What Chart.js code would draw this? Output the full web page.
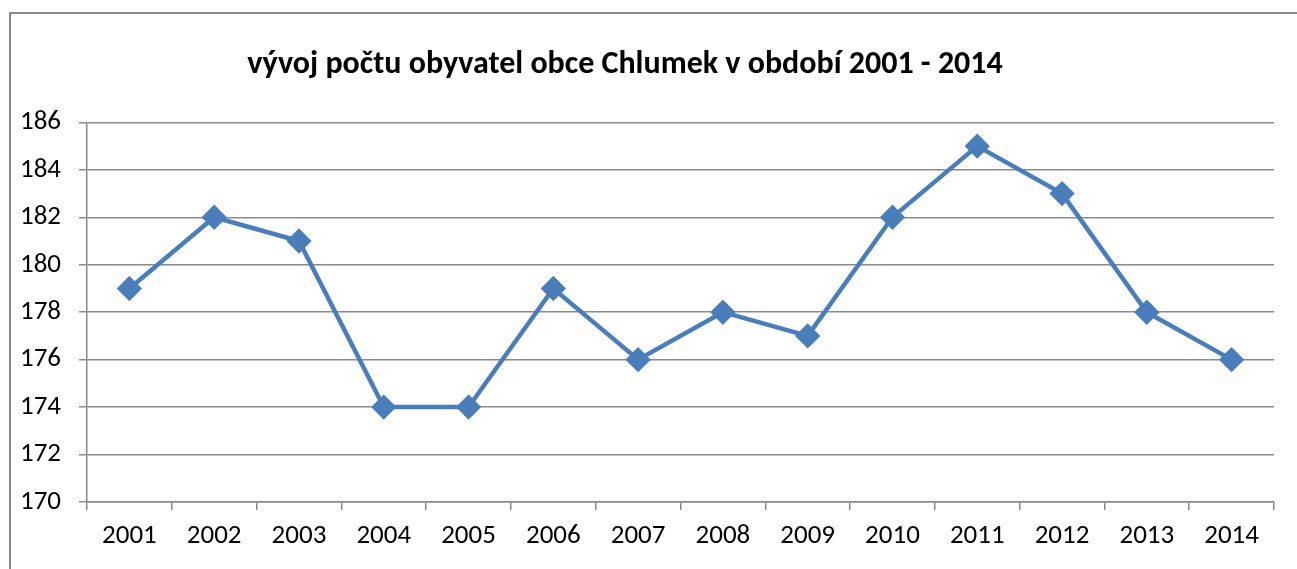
<!DOCTYPE html>
<html>
<head>
<meta charset="utf-8">
<script src="https://cdn.jsdelivr.net/npm/chart.js@4"></script>
<style>
  html, body { margin: 0; padding: 0; background: #fff; }
  #wrap { position: relative; width: 1297px; height: 569px; overflow: hidden; }
  #frame { position: absolute; left: 9px; top: 12px; width: 1400px; height: 700px;
           border-left: 2px solid #888; border-top: 2px solid #888; }
  canvas { position: absolute; left: -24px; top: 0; }
</style>
</head>
<body>
<div id="wrap">
  <div id="frame"></div>
  <canvas id="myChart" width="1321" height="569"></canvas>
</div>
<script>
// roky a počet obyvatel
var roky = ['2001', '2002', '2003', '2004', '2005', '2006', '2007', '2008', '2009', '2010', '2011', '2012', '2013', '2014'];
var obyvatele = [179, 182, 181, 174, 174, 179, 176, 178, 177, 182, 185, 183, 178, 176];
var osaY = [170, 172, 174, 176, 178, 180, 182, 184, 186];

var ctx = document.getElementById('myChart').getContext('2d');
var font = 'Carlito, Calibri, "Open Sans", sans-serif';

var chart = new Chart(ctx, {
  type: 'line',
  data: {
    labels: roky,
    datasets: [{
      label: 'obyvatelé',
      data: obyvatele,
      borderColor: '#4a7ebb',
      backgroundColor: '#4a7ebb',
      borderWidth: 4.5,
      pointStyle: 'rectRot',
      pointRadius: 9.5,
      pointHoverRadius: 9.5,
      tension: 0,
      fill: false
    }]
  },
  options: {
    responsive: false,
    animation: false,
    layout: { padding: { top: 12, right: 23, bottom: 12, left: 0 } },
    plugins: {
      legend: { display: false },
      tooltip: { enabled: false },
      title: {
        display: true,
        text: 'vývoj počtu obyvatel obce Chlumek v období 2001 - 2014',
        color: '#000',
        font: { family: font, size: 32, weight: 'bold' },
        padding: { top: 34, bottom: 38 }
      }
    },
    scales: {
      x: {
        offset: true,
        grid: { display: true, drawOnChartArea: false, offset: true, color: '#8a8a8a', lineWidth: 1.5, tickLength: 8 },
        border: { color: '#8a8a8a', width: 1.5 },
        ticks: { color: '#000', font: { family: font, size: 27 }, padding: 10, maxRotation: 0 },
        afterFit: function (s) { s.height = 55; }
      },
      y: {
        min: 170,
        max: 186,
        afterBuildTicks: function (s) { s.ticks = osaY.map(function (v) { return { value: v }; }); },
        grid: { color: '#8a8a8a', lineWidth: 1.5, tickLength: 8 },
        border: { color: '#8a8a8a', width: 1.5 },
        ticks: { color: '#000', font: { family: font, size: 27 }, padding: 18 },
        afterFit: function (s) { s.width = 111; }
      }
    }
  }
});
</script>
</body>
</html>
